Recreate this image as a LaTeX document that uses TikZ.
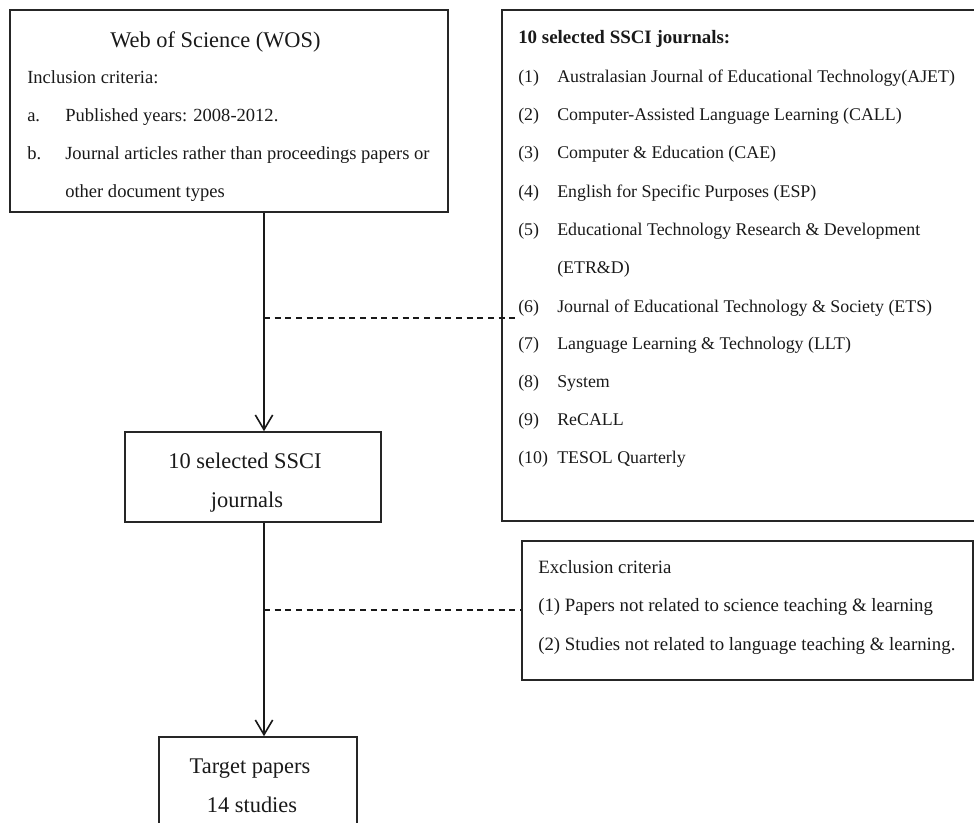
\documentclass[tikz,border=0pt]{standalone}
\usepackage{fontspec}
\setmainfont{Liberation Serif}
\usetikzlibrary{fit,arrows.meta}
\begin{document}
\begin{tikzpicture}[x=0.75pt,y=-0.75pt,
  box/.style={draw=black!85, line width=1.2pt, inner sep=0pt},
  txt/.style={inner sep=0pt, anchor=base west, font=\fontsize{13.4}{15}\selectfont, text=black!90},
  wtxt/.style={txt, font=\fontsize{13.9}{15}\selectfont},
  etxt/.style={txt, font=\fontsize{14.1}{15}\selectfont},
  big/.style={inner sep=0pt, anchor=base, font=\fontsize{16.8}{19}\selectfont, text=black!90},
  arr/.style={line width=1.2pt, draw=black!90, -{Straight Barb[length=11pt,width=13pt,line width=1.2pt]}},
  dsh/.style={line width=1pt, draw=black!90, dash pattern=on 4.5pt off 3.5pt}]
\useasboundingbox (0,0) rectangle (974,822);
% boxes
\node[box, fit={(10,10)(448,212)}] (wos) {};
\node[box, fit={(502,10)(990,521)}] (jl) {};
\node[box, fit={(125,432)(381,522)}] (sel) {};
\node[box, fit={(522,541)(973,680)}] (exc) {};
\node[box, fit={(159,737)(357,835)}] (tgt) {};
% WOS text
\node[big, anchor=base west] (w0) at (110,47) {Web of Science (WOS)};
\node[wtxt] (w1) at (27,83) {Inclusion criteria:};
\node[wtxt] (w2a) at (27,121) {a.};
\node[wtxt] (w2) at (65,121) {Published years: 2008-2012.};
\node[wtxt] (w3a) at (27,159) {b.};
\node[wtxt] (w3) at (65,159) {Journal articles rather than proceedings papers or};
\node[wtxt] (w4) at (65,197) {other document types};
% journals list
\node[txt, font=\fontsize{14.2}{15}\selectfont\bfseries] (j0) at (518,43) {10 selected SSCI journals:};
\node[txt] (n1) at (518,82) {(1)};  \node[txt] (j1) at (557,82) {Australasian Journal of Educational Technology(AJET)};
\node[txt] (n2) at (518,120) {(2)}; \node[txt] (j2) at (557,120) {Computer-Assisted Language Learning (CALL)};
\node[txt] (n3) at (518,158) {(3)}; \node[txt] (j3) at (557,158) {Computer \& Education (CAE)};
\node[txt] (n4) at (518,197) {(4)}; \node[txt] (j4) at (557,197) {English for Specific Purposes (ESP)};
\node[txt] (n5) at (518,235) {(5)}; \node[txt] (j5) at (557,235) {Educational Technology Research \& Development};
\node[txt] (j5b) at (557,273) {(ETR\&D)};
\node[txt] (n6) at (518,312) {(6)}; \node[txt] (j6) at (557,312) {Journal of Educational Technology \& Society (ETS)};
\node[txt] (n7) at (518,349) {(7)}; \node[txt] (j7) at (557,349) {Language Learning \& Technology (LLT)};
\node[txt] (n8) at (518,387) {(8)}; \node[txt] (j8) at (557,387) {System};
\node[txt] (n9) at (518,425) {(9)}; \node[txt] (j9) at (557,425) {ReCALL};
\node[txt] (n10) at (518,463) {(10)}; \node[txt] (j10) at (557,463) {TESOL Quarterly};
% selected box text
\node[big] (s1) at (245,468) {10 selected SSCI};
\node[big] (s2) at (247,507) {journals};
% exclusion text
\node[etxt] (e0) at (538,573) {Exclusion criteria};
\node[etxt] (e1) at (538,611) {(1) Papers not related to science teaching \& learning};
\node[etxt] (e2) at (538,650) {(2) Studies not related to language teaching \& learning.};
% target text
\node[big] (t1) at (250,773) {Target papers};
\node[big] (t2) at (252,812) {14 studies};
% connectors
\coordinate (cx) at (264,0);
\coordinate (d1) at (264,318);
\coordinate (d1e) at (520,318);
\coordinate (d2) at (264,610);
\draw[arr] (wos.south -| cx) -- (sel.north -| cx);
\draw[arr] (sel.south -| cx) -- (tgt.north -| cx);
\draw[dsh] (d1) -- (d1e);
\draw[dsh] (d2) -- (d2 -| exc.west);
\end{tikzpicture}
\end{document}
